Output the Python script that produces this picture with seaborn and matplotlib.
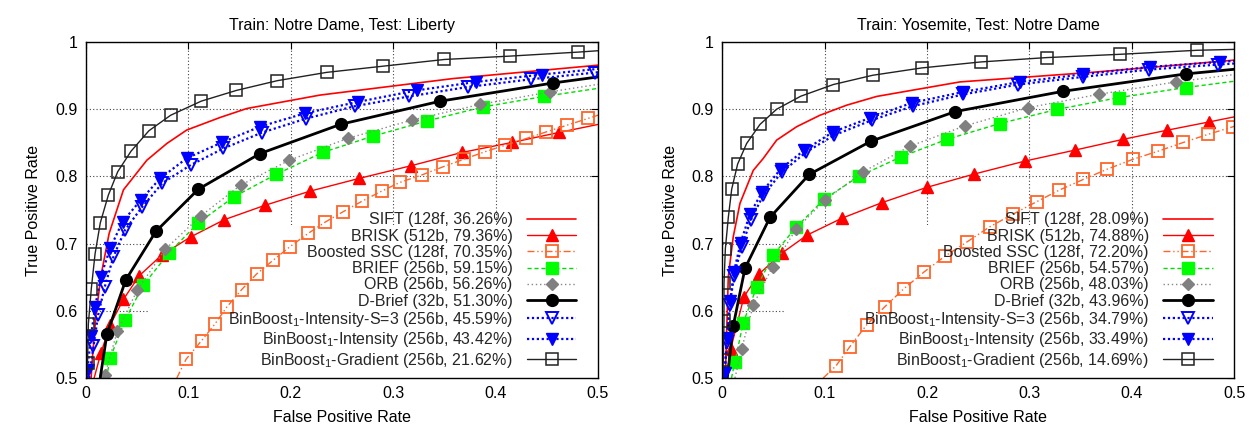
import matplotlib
matplotlib.use("Agg")
import matplotlib.pyplot as plt
from matplotlib.patches import Rectangle
from matplotlib.ticker import FuncFormatter
import seaborn as sns

sns.set_theme(style="white")
plt.rcParams["font.family"] = ["Liberation Sans", "DejaVu Sans"]
plt.rcParams["mathtext.fontset"] = "custom"
plt.rcParams["mathtext.rm"] = "Liberation Sans"
plt.rcParams["mathtext.default"] = "regular"

# ---------------- data: Train Notre Dame, Test Liberty ----------------
titles = ["Train: Notre Dame, Test: Liberty", "Train: Yosemite, Test: Notre Dame"]

labels_lib = ["SIFT (128f, 36.26%)", "BRISK (512b, 79.36%)", "Boosted SSC (128f, 70.35%)",
              "BRIEF (256b, 59.15%)", "ORB (256b, 56.26%)", "D-Brief (32b, 51.30%)",
              "BinBoost$_1$-Intensity-S=3 (256b, 45.59%)", "BinBoost$_1$-Intensity (256b, 43.42%)",
              "BinBoost$_1$-Gradient (256b, 21.62%)"]
labels_nd = ["SIFT (128f, 28.09%)", "BRISK (512b, 74.88%)", "Boosted SSC (128f, 72.20%)",
             "BRIEF (256b, 54.57%)", "ORB (256b, 48.03%)", "D-Brief (32b, 43.96%)",
             "BinBoost$_1$-Intensity-S=3 (256b, 34.79%)", "BinBoost$_1$-Intensity (256b, 33.49%)",
             "BinBoost$_1$-Gradient (256b, 14.69%)"]

lib_sift_fpr = [0.005, 0.0064, 0.0096, 0.0145, 0.0226, 0.0366, 0.0594, 0.079, 0.0984, 0.131, 0.157, 0.2285, 0.3585, 0.5]
lib_sift_tpr = [0.5, 0.532, 0.591, 0.651, 0.715, 0.78, 0.824, 0.849, 0.869, 0.8877, 0.901, 0.921, 0.9456, 0.9655]

lib_brisk_fpr = [0.008, 0.0145, 0.0236, 0.0366, 0.0519, 0.074, 0.1023, 0.135, 0.1748, 0.2187, 0.2668, 0.317, 0.3673, 0.4161, 0.462, 0.5]
lib_brisk_tpr = [0.5, 0.537, 0.579, 0.617, 0.652, 0.683, 0.71, 0.7355, 0.757, 0.778, 0.797, 0.8157, 0.8357, 0.8505, 0.8654, 0.8773]

lib_bssc_fpr = [0.0887, 0.0978, 0.113, 0.126, 0.1374, 0.152, 0.1667, 0.1826, 0.1992, 0.2171, 0.2334, 0.2512, 0.2695,
                0.2887, 0.3065, 0.3277, 0.3488, 0.3693, 0.3895, 0.4097, 0.4302, 0.4497, 0.4698, 0.4902, 0.5]
lib_bssc_tpr = [0.5, 0.528, 0.5557, 0.5805, 0.6053, 0.6315, 0.6548, 0.675, 0.6954, 0.7153, 0.7318, 0.7475, 0.763,
                0.778, 0.791, 0.802, 0.8143, 0.8257, 0.8366, 0.8465, 0.8565, 0.8663, 0.8762, 0.8862, 0.891]

lib_brief_fpr = [0.02, 0.0236, 0.0382, 0.0561, 0.0812, 0.1098, 0.1446, 0.1856, 0.2311, 0.2805, 0.3332, 0.3878, 0.4473, 0.5]
lib_brief_tpr = [0.5, 0.5296, 0.5865, 0.6385, 0.6865, 0.731, 0.7697, 0.803, 0.8357, 0.86, 0.8826, 0.9034, 0.919, 0.931]

lib_orb_fpr = [0.016, 0.0184, 0.0307, 0.0502, 0.0773, 0.112, 0.151, 0.1985, 0.2555, 0.318, 0.3846, 0.4529, 0.5]
lib_orb_tpr = [0.5, 0.5047, 0.57, 0.631, 0.6915, 0.741, 0.787, 0.824, 0.8565, 0.8837, 0.907, 0.9257, 0.937]

lib_dbrief_fpr = [0.0139, 0.0204, 0.0389, 0.0682, 0.1098, 0.17, 0.2487, 0.3462, 0.4561, 0.5]
lib_dbrief_tpr = [0.5, 0.565, 0.646, 0.718, 0.781, 0.834, 0.8775, 0.912, 0.939, 0.948]

lib_bbs3_fpr = [0.003, 0.0073, 0.0119, 0.0184, 0.0268, 0.038, 0.0551, 0.0746, 0.1023, 0.1342, 0.1716, 0.2148,
                0.2626, 0.3156, 0.3726, 0.435, 0.4968, 0.5]
lib_bbs3_tpr = [0.5, 0.547, 0.594, 0.636, 0.6805, 0.72, 0.755, 0.79, 0.817, 0.8416, 0.865, 0.886,
                0.9045, 0.919, 0.933, 0.9446, 0.9545, 0.955]

lib_bbint_fpr = [0.001, 0.0015, 0.0048, 0.009, 0.0145, 0.0236, 0.0357, 0.0536, 0.0724, 0.0984, 0.1326, 0.17, 0.214,
                 0.266, 0.323, 0.381, 0.445, 0.5]
lib_bbint_tpr = [0.5, 0.512, 0.562, 0.606, 0.651, 0.693, 0.7325, 0.765, 0.797, 0.827, 0.8505, 0.874, 0.894,
                 0.911, 0.928, 0.9406, 0.9516, 0.96]

lib_bbgrad_fpr = [0.0005, 0.0015, 0.0023, 0.0052, 0.0089, 0.014, 0.0218, 0.031, 0.044, 0.0615, 0.0827, 0.1126, 0.147,
                  0.187, 0.235, 0.29, 0.35, 0.414, 0.481, 0.5]
lib_bbgrad_tpr = [0.5, 0.522, 0.58, 0.633, 0.685, 0.731, 0.772, 0.807, 0.8375, 0.868, 0.891, 0.912, 0.928,
                  0.9425, 0.9548, 0.964, 0.974, 0.979, 0.985, 0.987]

# ---------------- data: Train Yosemite, Test Notre Dame ----------------
nd_sift_fpr = [0.003, 0.0045, 0.0059, 0.0107, 0.0173, 0.0303, 0.04, 0.0531, 0.0727, 0.0954, 0.1215, 0.1508, 0.2321, 0.3623, 0.5]
nd_sift_tpr = [0.5, 0.58, 0.651, 0.71, 0.76, 0.809, 0.8267, 0.854, 0.874, 0.891, 0.906, 0.919, 0.9406, 0.955, 0.973]

nd_brisk_fpr = [0.004, 0.0082, 0.0212, 0.0361, 0.058, 0.083, 0.1166, 0.1557, 0.1996, 0.2458, 0.2961, 0.3444, 0.391,
                0.4346, 0.4756, 0.5]
nd_brisk_tpr = [0.5, 0.543, 0.621, 0.655, 0.6856, 0.7128, 0.7376, 0.7608, 0.7836, 0.8034, 0.823, 0.8391, 0.855,
                0.8688, 0.8811, 0.8886]

nd_bssc_fpr = [0.0986, 0.111, 0.1247, 0.141, 0.1589, 0.1773, 0.1968, 0.218, 0.2393, 0.2617, 0.2839, 0.307, 0.3291,
               0.3526, 0.376, 0.4008, 0.4258, 0.4502, 0.474, 0.4984, 0.5]
nd_bssc_tpr = [0.5, 0.518, 0.5468, 0.579, 0.6063, 0.6328, 0.6575, 0.6818, 0.7028, 0.7254, 0.7438, 0.7623, 0.7796,
               0.7955, 0.8108, 0.8253, 0.8376, 0.8505, 0.8624, 0.8737, 0.8745]

nd_brief_fpr = [0.009, 0.0124, 0.0205, 0.0336, 0.0498, 0.072, 0.0993, 0.1338, 0.1745, 0.2191, 0.2712, 0.3266, 0.3877,
                0.4525, 0.5]
nd_brief_tpr = [0.5, 0.5245, 0.5825, 0.635, 0.683, 0.7242, 0.7658, 0.8004, 0.829, 0.855, 0.8787, 0.8996, 0.9174,
                0.9322, 0.9416]

nd_orb_fpr = [0.0124, 0.0189, 0.0303, 0.0492, 0.072, 0.1003, 0.1378, 0.1833, 0.237, 0.2985, 0.3682, 0.4431, 0.5]
nd_orb_tpr = [0.5, 0.543, 0.6088, 0.6657, 0.7212, 0.7648, 0.807, 0.845, 0.8752, 0.9022, 0.9223, 0.9406, 0.9516]

nd_dbrief_fpr = [0.0049, 0.0107, 0.0222, 0.0466, 0.085, 0.1452, 0.2276, 0.333, 0.4525, 0.5]
nd_dbrief_tpr = [0.5, 0.5775, 0.6633, 0.739, 0.803, 0.8524, 0.8965, 0.9267, 0.9525, 0.9594]

nd_bbs3_fpr = [0.0005, 0.0017, 0.0049, 0.0075, 0.0114, 0.0189, 0.0277, 0.04, 0.058, 0.0814, 0.1094, 0.1462, 0.186,
               0.2354, 0.289, 0.352, 0.417, 0.4844, 0.5]
nd_bbs3_tpr = [0.5, 0.506, 0.553, 0.609, 0.652, 0.695, 0.7345, 0.772, 0.806, 0.8357, 0.8614, 0.8837, 0.9045,
               0.922, 0.9367, 0.948, 0.959, 0.9664, 0.968]

nd_bbint_fpr = [0.001, 0.0026, 0.0043, 0.0075, 0.0114, 0.018, 0.027, 0.039, 0.057, 0.0801, 0.1084, 0.1442, 0.185,
                0.2354, 0.2907, 0.3526, 0.4177, 0.486, 0.5]
nd_bbint_tpr = [0.5, 0.508, 0.559, 0.614, 0.658, 0.7016, 0.744, 0.777, 0.811, 0.839, 0.8663, 0.887, 0.9094,
                0.9257, 0.9406, 0.952, 0.9629, 0.9703, 0.972]

nd_bbgrad_fpr = [0.0005, 0.001, 0.0017, 0.0017, 0.003, 0.0059, 0.0092, 0.015, 0.0238, 0.0368, 0.0531, 0.0766, 0.1084,
                 0.1469, 0.1947, 0.2523, 0.3168, 0.3884, 0.4639, 0.5]
nd_bbgrad_tpr = [0.5, 0.527, 0.5854, 0.641, 0.692, 0.739, 0.781, 0.8183, 0.849, 0.8773, 0.9, 0.9193, 0.9367,
                 0.9505, 0.9614, 0.9703, 0.9768, 0.9817, 0.9877, 0.989]

panels = [
    [(lib_sift_fpr, lib_sift_tpr), (lib_brisk_fpr, lib_brisk_tpr), (lib_bssc_fpr, lib_bssc_tpr),
     (lib_brief_fpr, lib_brief_tpr), (lib_orb_fpr, lib_orb_tpr), (lib_dbrief_fpr, lib_dbrief_tpr),
     (lib_bbs3_fpr, lib_bbs3_tpr), (lib_bbint_fpr, lib_bbint_tpr), (lib_bbgrad_fpr, lib_bbgrad_tpr)],
    [(nd_sift_fpr, nd_sift_tpr), (nd_brisk_fpr, nd_brisk_tpr), (nd_bssc_fpr, nd_bssc_tpr),
     (nd_brief_fpr, nd_brief_tpr), (nd_orb_fpr, nd_orb_tpr), (nd_dbrief_fpr, nd_dbrief_tpr),
     (nd_bbs3_fpr, nd_bbs3_tpr), (nd_bbint_fpr, nd_bbint_tpr), (nd_bbgrad_fpr, nd_bbgrad_tpr)],
]
panel_labels = [labels_lib, labels_nd]

# ---------------- styles ----------------
styles = [
    dict(color="#ff0000", lw=1.2, ls="-", marker=None),
    dict(color="#ff0000", lw=1.0, ls="-", marker="^", ms=8, mfc="#ff0000", mec="#ff0000"),
    dict(color="#ff6428", lw=1.0, ls=(0, (5, 2, 1, 2, 1, 2)), marker="s", ms=9, mfc="none", mec="#ff6428", mew=1.3),
    dict(color="#00e000", lw=1.0, ls=(0, (3, 2)), marker="s", ms=8, mfc="#00ff00", mec="#00ff00"),
    dict(color="#888888", lw=1.0, ls=(0, (1, 2)), marker="D", ms=6.5, mfc="#808080", mec="#808080"),
    dict(color="#000000", lw=2.0, ls="-", marker="o", ms=8.5, mfc="#000000", mec="#000000"),
    dict(color="#0000ff", lw=1.6, ls=(0, (1, 1.2)), marker="v", ms=8.5, mfc="none", mec="#0000ff", mew=1.4),
    dict(color="#0000ff", lw=1.6, ls=(0, (1, 1.2)), marker="v", ms=8.5, mfc="#0000ff", mec="#0000ff"),
    dict(color="#222222", lw=1.0, ls="-", marker="s", ms=9, mfc="none", mec="#222222", mew=1.1),
]

fig = plt.figure(figsize=(12.57, 4.26), dpi=100)
ax_rects = [[0.0684, 0.1127, 0.4073, 0.7887], [0.5746, 0.1127, 0.4073, 0.7887]]
fs = 11.5

for p in range(2):
    ax = fig.add_axes(ax_rects[p])
    ax.set_axisbelow(True)
    for (fpr, tpr), st in zip(panels[p], styles):
        kw = dict(color=st["color"], lw=st["lw"], linestyle=st["ls"])
        if st["marker"] is not None:
            kw.update(marker=st["marker"], ms=st["ms"], mfc=st["mfc"], mec=st["mec"],
                      mew=st.get("mew", 1.0), markevery=slice(1, len(fpr) - 1))
        sns.lineplot(x=fpr, y=tpr, ax=ax, sort=False, estimator=None, **kw)
    # legend handles
    handles = []
    for st in styles:
        kw = dict(color=st["color"], lw=st["lw"], linestyle=st["ls"])
        if st["marker"] is not None:
            kw.update(marker=st["marker"], ms=st["ms"], mfc=st["mfc"], mec=st["mec"], mew=st.get("mew", 1.0))
        h, = ax.plot([], [], **kw)
        handles.append(h)
    ax.add_patch(Rectangle((0.061, 0.5), 0.439, 0.228, facecolor="white", edgecolor="none", zorder=1.5))
    leg = ax.legend(handles, panel_labels[p], loc="lower right", bbox_to_anchor=(0.958, 0.025),
                    frameon=False, markerfirst=False, fontsize=fs, handlelength=3.1,
                    handletextpad=0.9, labelspacing=0.08, borderpad=0, borderaxespad=0)
    leg.set_zorder(5)

    ax.set_xlim(0, 0.5)
    ax.set_ylim(0.5, 1.0)
    ax.set_xticks([0, 0.1, 0.2, 0.3, 0.4, 0.5])
    ax.set_yticks([0.5, 0.6, 0.7, 0.8, 0.9, 1.0])
    fmt = FuncFormatter(lambda v, pos: "%g" % round(v, 2))
    ax.xaxis.set_major_formatter(fmt)
    ax.yaxis.set_major_formatter(fmt)
    ax.tick_params(direction="in", length=5, width=0.8, top=True, right=True,
                   labelsize=fs, colors="black", pad=6)
    ax.grid(True, color="#444444", linestyle=(0, (1, 2)), linewidth=0.8)
    for s in ax.spines.values():
        s.set_color("black")
        s.set_linewidth(1.0)
    ax.set_xlabel("False Positive Rate", fontsize=fs, color="black", labelpad=6)
    ax.set_ylabel("True Positive Rate", fontsize=fs, color="black", labelpad=10)
    ax.set_title(titles[p], fontsize=fs, color="black", pad=9)

fig.savefig("out.png", dpi=100)
